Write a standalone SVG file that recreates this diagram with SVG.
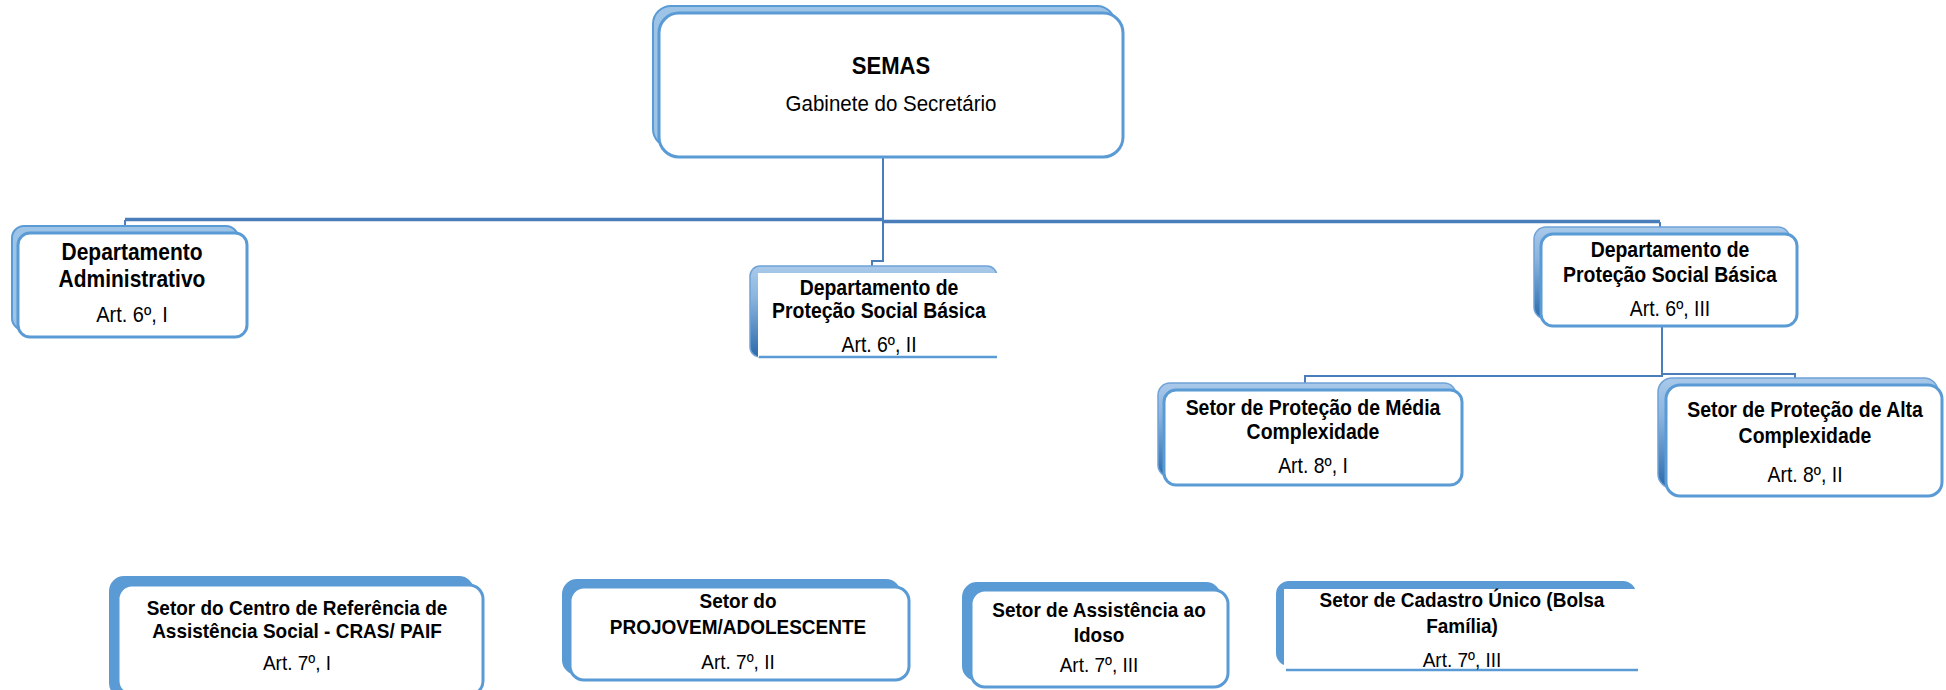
<svg xmlns="http://www.w3.org/2000/svg" width="1946" height="690" viewBox="0 0 1946 690">
<defs>
<linearGradient id="gsh" x1="0" y1="0" x2="0" y2="1">
<stop offset="0" stop-color="#a9c9e9"/>
<stop offset="0.35" stop-color="#8ab4df"/>
<stop offset="1" stop-color="#2c6aab"/>
</linearGradient>
</defs>
<style>
.t{font-family:"Liberation Sans",Arial,sans-serif;fill:#000;text-anchor:middle}
.b{font-weight:bold}
.box{fill:#fff;stroke:#5b9bd5;stroke-width:3}
.open{fill:#fff;stroke:none}
.shL{fill:#9dc3e6;stroke:#5b9bd5;stroke-width:2}
.shG{fill:url(#gsh);stroke:#6fa3d8;stroke-width:1.5}
.shD{fill:#5b9bd5;stroke:#5b9bd5;stroke-width:2}
.edge{fill:none;stroke:#4a7ebb;stroke-width:2}
.bar{fill:none;stroke:#4a7ebb;stroke-width:3.5}
.bline{stroke:#5b9bd5;stroke-width:2.5}
</style>

<g id="connectors">
<path class="bar" d="M883,219.5 H125"/>
<path class="bar" d="M883,221.5 H1660"/>
<path class="edge" d="M883,157 V261 H872 V266"/>
<path class="edge" d="M125,220 V226"/>
<path class="edge" d="M1660,222 V227"/>
<path class="edge" d="M1662,326 V376 H1305 V383"/>
<path class="edge" d="M1662,374 H1795 V378"/>
</g>

<g id="semas">
<rect class="shL" x="653" y="6" width="462" height="141" rx="18"/>
<rect class="box" x="659" y="13" width="464" height="144" rx="20"/>
<text class="t b" transform="translate(891,74) scale(.92,1)" font-size="24">SEMAS</text>
<text class="t" transform="translate(891,111) scale(.9,1)" font-size="22.8">Gabinete do Secretário</text>
</g>

<g id="dept-adm">
<rect class="shL" x="12" y="226" width="226" height="104" rx="12"/>
<rect class="box" x="18" y="233" width="229" height="104" rx="12"/>
<text class="t b" transform="translate(132,260) scale(.9,1)" font-size="23.3">Departamento</text>
<text class="t b" transform="translate(132,287) scale(.9,1)" font-size="23.3">Administrativo</text>
<text class="t" transform="translate(132,322) scale(.9,1)" font-size="22.2">Art. 6º, I</text>
</g>

<g id="dept-psb-ii">
<rect class="shG" x="750" y="266" width="247" height="91" rx="10"/>
<rect class="open" x="758" y="273" width="240" height="84"/>
<line class="bline" x1="759" y1="357" x2="997" y2="357"/>
<text class="t b" transform="translate(879,295) scale(.9,1)" font-size="21.6">Departamento de</text>
<text class="t b" transform="translate(879,318) scale(.9,1)" font-size="21.6">Proteção Social Básica</text>
<text class="t" transform="translate(879,352) scale(.9,1)" font-size="21.6">Art. 6º, II</text>
</g>

<g id="dept-psb-iii">
<rect class="shG" x="1534" y="227" width="256" height="92" rx="12"/>
<rect class="box" x="1541" y="234" width="256" height="92" rx="12"/>
<text class="t b" transform="translate(1670,257) scale(.9,1)" font-size="21.6">Departamento de</text>
<text class="t b" transform="translate(1670,282) scale(.9,1)" font-size="21.6">Proteção Social Básica</text>
<text class="t" transform="translate(1670,316) scale(.9,1)" font-size="21.6">Art. 6º, III</text>
</g>

<g id="setor-media">
<rect class="shG" x="1158" y="383" width="298" height="94" rx="12"/>
<rect class="box" x="1164" y="390" width="298" height="95" rx="12"/>
<text class="t b" transform="translate(1313,415) scale(.9,1)" font-size="21.6">Setor de Proteção de Média</text>
<text class="t b" transform="translate(1313,439) scale(.9,1)" font-size="21.6">Complexidade</text>
<text class="t" transform="translate(1313,473) scale(.9,1)" font-size="21.6">Art. 8º, I</text>
</g>

<g id="setor-alta">
<rect class="shG" x="1658" y="378" width="280" height="110" rx="14"/>
<rect class="box" x="1666" y="385" width="276" height="111" rx="14"/>
<text class="t b" transform="translate(1805,417) scale(.9,1)" font-size="21.6">Setor de Proteção de Alta</text>
<text class="t b" transform="translate(1805,443) scale(.9,1)" font-size="21.6">Complexidade</text>
<text class="t" transform="translate(1805,482) scale(.9,1)" font-size="21.6">Art. 8º, II</text>
</g>

<g id="setor-cras">
<rect class="shD" x="110" y="577" width="363" height="120" rx="14"/>
<rect class="box" x="118" y="585" width="365" height="110" rx="14"/>
<text class="t b" transform="translate(297,615) scale(.9,1)" font-size="21.1">Setor do Centro de Referência de</text>
<text class="t b" transform="translate(297,638) scale(.9,1)" font-size="21.1">Assistência Social - CRAS/ PAIF</text>
<text class="t" transform="translate(297,670) scale(.9,1)" font-size="21.1">Art. 7º, I</text>
</g>

<g id="setor-projovem">
<rect class="shD" x="563" y="580" width="337" height="94" rx="14"/>
<rect class="box" x="570" y="587" width="339" height="93" rx="14"/>
<text class="t b" transform="translate(738,608) scale(.9,1)" font-size="21.1">Setor do</text>
<text class="t b" transform="translate(738,634) scale(.9,1)" font-size="21.1">PROJOVEM/ADOLESCENTE</text>
<text class="t" transform="translate(738,669) scale(.9,1)" font-size="21.1">Art. 7º, II</text>
</g>

<g id="setor-idoso">
<rect class="shD" x="963" y="583" width="257" height="97" rx="14"/>
<rect class="box" x="971" y="590" width="257" height="97" rx="14"/>
<text class="t b" transform="translate(1099,617) scale(.9,1)" font-size="21.1">Setor de Assistência ao</text>
<text class="t b" transform="translate(1099,642) scale(.9,1)" font-size="21.1">Idoso</text>
<text class="t" transform="translate(1099,672) scale(.9,1)" font-size="21.1">Art. 7º, III</text>
</g>

<g id="setor-cadastro">
<rect class="shD" x="1277" y="582" width="358" height="83" rx="12"/>
<rect class="open" x="1284" y="589" width="356" height="81"/>
<line class="bline" x1="1286" y1="670" x2="1638" y2="670"/>
<text class="t b" transform="translate(1462,607) scale(.9,1)" font-size="21.1">Setor de Cadastro Único (Bolsa</text>
<text class="t b" transform="translate(1462,633) scale(.9,1)" font-size="21.1">Família)</text>
<text class="t" transform="translate(1462,667) scale(.9,1)" font-size="21.1">Art. 7º, III</text>
</g>
</svg>
